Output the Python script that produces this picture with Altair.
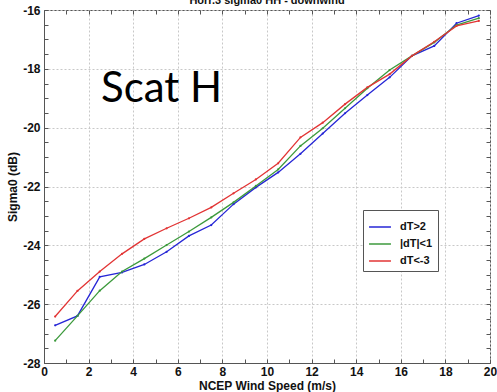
import altair as alt
import pandas as pd

# ---- data ----
speed = [0.5, 1.5, 2.5, 3.5, 4.5, 5.5, 6.5, 7.5, 8.5, 9.5,
         10.5, 11.5, 12.5, 13.5, 14.5, 15.5, 16.5, 17.5, 18.5, 19.5]
dT_gt2 = [-26.72, -26.40, -25.07, -24.92, -24.65, -24.22, -23.68, -23.31, -22.60, -22.03,
          -21.52, -20.89, -20.20, -19.51, -18.89, -18.29, -17.56, -17.22, -16.45, -16.19]
absdT_lt1 = [-27.24, -26.40, -25.54, -24.89, -24.45, -23.99, -23.53, -23.05, -22.54, -21.98,
             -21.42, -20.62, -20.02, -19.34, -18.66, -18.04, -17.56, -17.10, -16.51, -16.28]
dT_ltm3 = [-26.42, -25.55, -24.89, -24.29, -23.78, -23.42, -23.08, -22.71, -22.23, -21.76,
           -21.21, -20.33, -19.83, -19.20, -18.63, -18.18, -17.56, -17.08, -16.54, -16.37]

series_names = ["dT>2", "|dT|<1", "dT<-3"]
series_colors = ["#2626d6", "#3c9a3c", "#e23434"]

x_tick_values = [0, 1, 2, 3, 4, 5, 6, 7, 8, 9, 10, 11, 12, 13, 14, 15, 16, 17, 18, 19, 20]
y_tick_values = [-28, -27.5, -27, -26.5, -26, -25.5, -25, -24.5, -24, -23.5, -23, -22.5,
                 -22, -21.5, -21, -20.5, -20, -19.5, -19, -18.5, -18, -17.5, -17, -16.5, -16]

title_text = "Horr.3 sigma0 HH - downwind"
overlay_text = "Scat H"

rows = []
for name, vals in zip(series_names, [dT_gt2, absdT_lt1, dT_ltm3]):
    for s, v in zip(speed, vals):
        rows.append({"speed": s, "sigma0": v, "series": name, "k": series_names.index(name)})
df = pd.DataFrame(rows)

FONT = "Liberation Sans"
major = "datum.value % 2 === 0"
lab = f"{major} ? ('' + datum.value) : ''"

xscale = alt.Scale(domain=[0, 20], nice=False, zero=False)
yscale = alt.Scale(domain=[-28, -16], nice=False, zero=False)

grid_op = {"condition": {"test": major, "value": 1}, "value": 0}

x_main = alt.Axis(values=x_tick_values, labelExpr=lab,
                  title="NCEP Wind Speed (m/s)", grid=True, gridOpacity=grid_op,
                  gridDash=[2, 2], gridColor="#c8c8c8", tickSize=alt.ExprRef("-4"),
                  labelPadding=7, titleY=22, titleBaseline="middle",
                  labelFlush=False, labelOverlap=False)
y_main = alt.Axis(values=y_tick_values, labelExpr=lab,
                  title="Sigma0 (dB)", grid=True, gridOpacity=grid_op,
                  gridDash=[2, 2], gridColor="#c8c8c8", tickSize=alt.ExprRef("-4"),
                  labelPadding=8, titleX=-32, titleBaseline="middle",
                  labelFlush=False, labelOverlap=False)

x_top = alt.Axis(orient="top", values=x_tick_values, labels=False, title=None, grid=False,
                 tickSize=alt.ExprRef("-4"), domain=False)
y_right = alt.Axis(orient="right", values=y_tick_values, labels=False, title=None, grid=False,
                   tickSize=alt.ExprRef("-4"), domain=False)

base = alt.Chart(df)

frame = base.mark_line(opacity=0).encode(
    x=alt.X("speed:Q", scale=xscale, axis=x_top),
    y=alt.Y("sigma0:Q", scale=yscale, axis=y_right),
    detail="series:N",
)

lines = base.mark_line(strokeWidth=1.3, point=alt.OverlayMarkDef(size=5, filled=True)).encode(
    x=alt.X("speed:Q", scale=xscale, axis=x_main),
    y=alt.Y("sigma0:Q", scale=yscale, axis=y_main),
    color=alt.Color("series:N", scale=alt.Scale(domain=series_names, range=series_colors),
                    legend=alt.Legend(title=None, orient="none", legendX=319, legendY=200,
                                      symbolType="stroke", symbolSize=480, symbolStrokeWidth=1.5,
                                      labelFont=FONT, labelFontWeight="bold", labelFontSize=11,
                                      labelColor="#111", labelOffset=8, padding=5,
                                      rowPadding=0,
                                      fillColor="white", strokeColor="#555")),
    order="k:Q",
)

title_layer = alt.Chart(pd.DataFrame({"t": [title_text]})).mark_text(
    font=FONT, fontWeight="bold", fontSize=11, color="#111", baseline="middle", align="center"
).encode(x=alt.value(223), y=alt.value(-9), text="t:N")

scat_layer = alt.Chart(pd.DataFrame({"t": [overlay_text]})).mark_text(
    font="Lato", fontSize=42, color="#000", baseline="alphabetic", align="left"
).encode(x=alt.value(57), y=alt.value(92), text="t:N")

chart = alt.layer(frame, lines, title_layer, scat_layer).resolve_axis(
    x="independent", y="independent"
).properties(
    width=446, height=353,
    padding={"left": 44, "top": 10, "right": 7, "bottom": 29},
    autosize=alt.AutoSizeParams(type="none"),
).configure_view(stroke="#555", strokeWidth=1).configure_axis(
    domainColor="#555", tickColor="#555",
    labelFont=FONT, labelFontWeight="bold", labelFontSize=12, labelColor="#111",
    titleFont=FONT, titleFontWeight="bold", titleFontSize=12, titleColor="#111",
)

chart.save("out.html", embed_options={"renderer": "svg", "actions": False})
